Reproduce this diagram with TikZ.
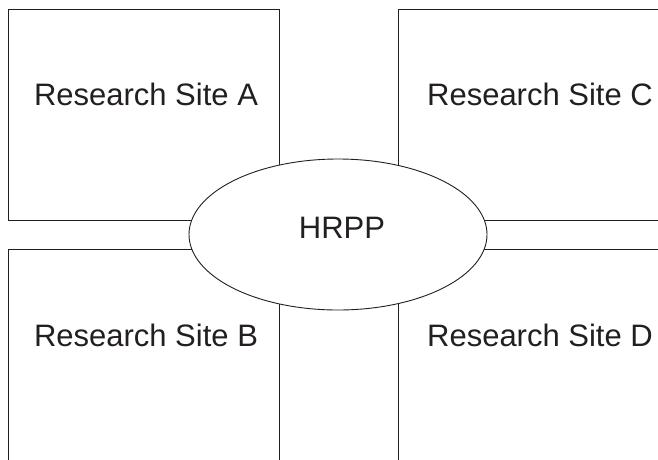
\documentclass[tikz,border=0pt]{standalone}
\usepackage{fontspec}
\setmainfont{Liberation Sans}
\usetikzlibrary{shapes.geometric}
\definecolor{ink}{HTML}{231F20}
\begin{document}
\begin{tikzpicture}[x=1pt,y=-1pt,
  site/.style={draw=ink,line width=0.9pt,fill=white},
  lbl/.style={text=ink,font=\fontsize{31}{36}\selectfont,anchor=base,inner sep=0pt},
  hub/.style={ellipse,draw=ink,line width=0.9pt,fill=white,minimum width=298pt,minimum height=151pt,inner sep=0pt}]
\useasboundingbox (0,0) rectangle (658,459);
\clip (0,0) rectangle (658,459);
\draw[site] (8.5,9) rectangle (279,220);
\draw[site] (398,9) rectangle (700,220);
\draw[site] (8.5,249) rectangle (279,480);
\draw[site] (398,249) rectangle (700,480);
\node[lbl] (a) at (146,105) {Research Site A};
\node[lbl] (c) at (540,105) {Research Site C};
\node[lbl] (b) at (146,346) {Research Site B};
\node[lbl] (d) at (540,346) {Research Site D};
\node[hub] (hrpp) at (338,234.5) {};
\node[lbl] (hrppt) at (342,238) {HRPP};
\end{tikzpicture}
\end{document}
